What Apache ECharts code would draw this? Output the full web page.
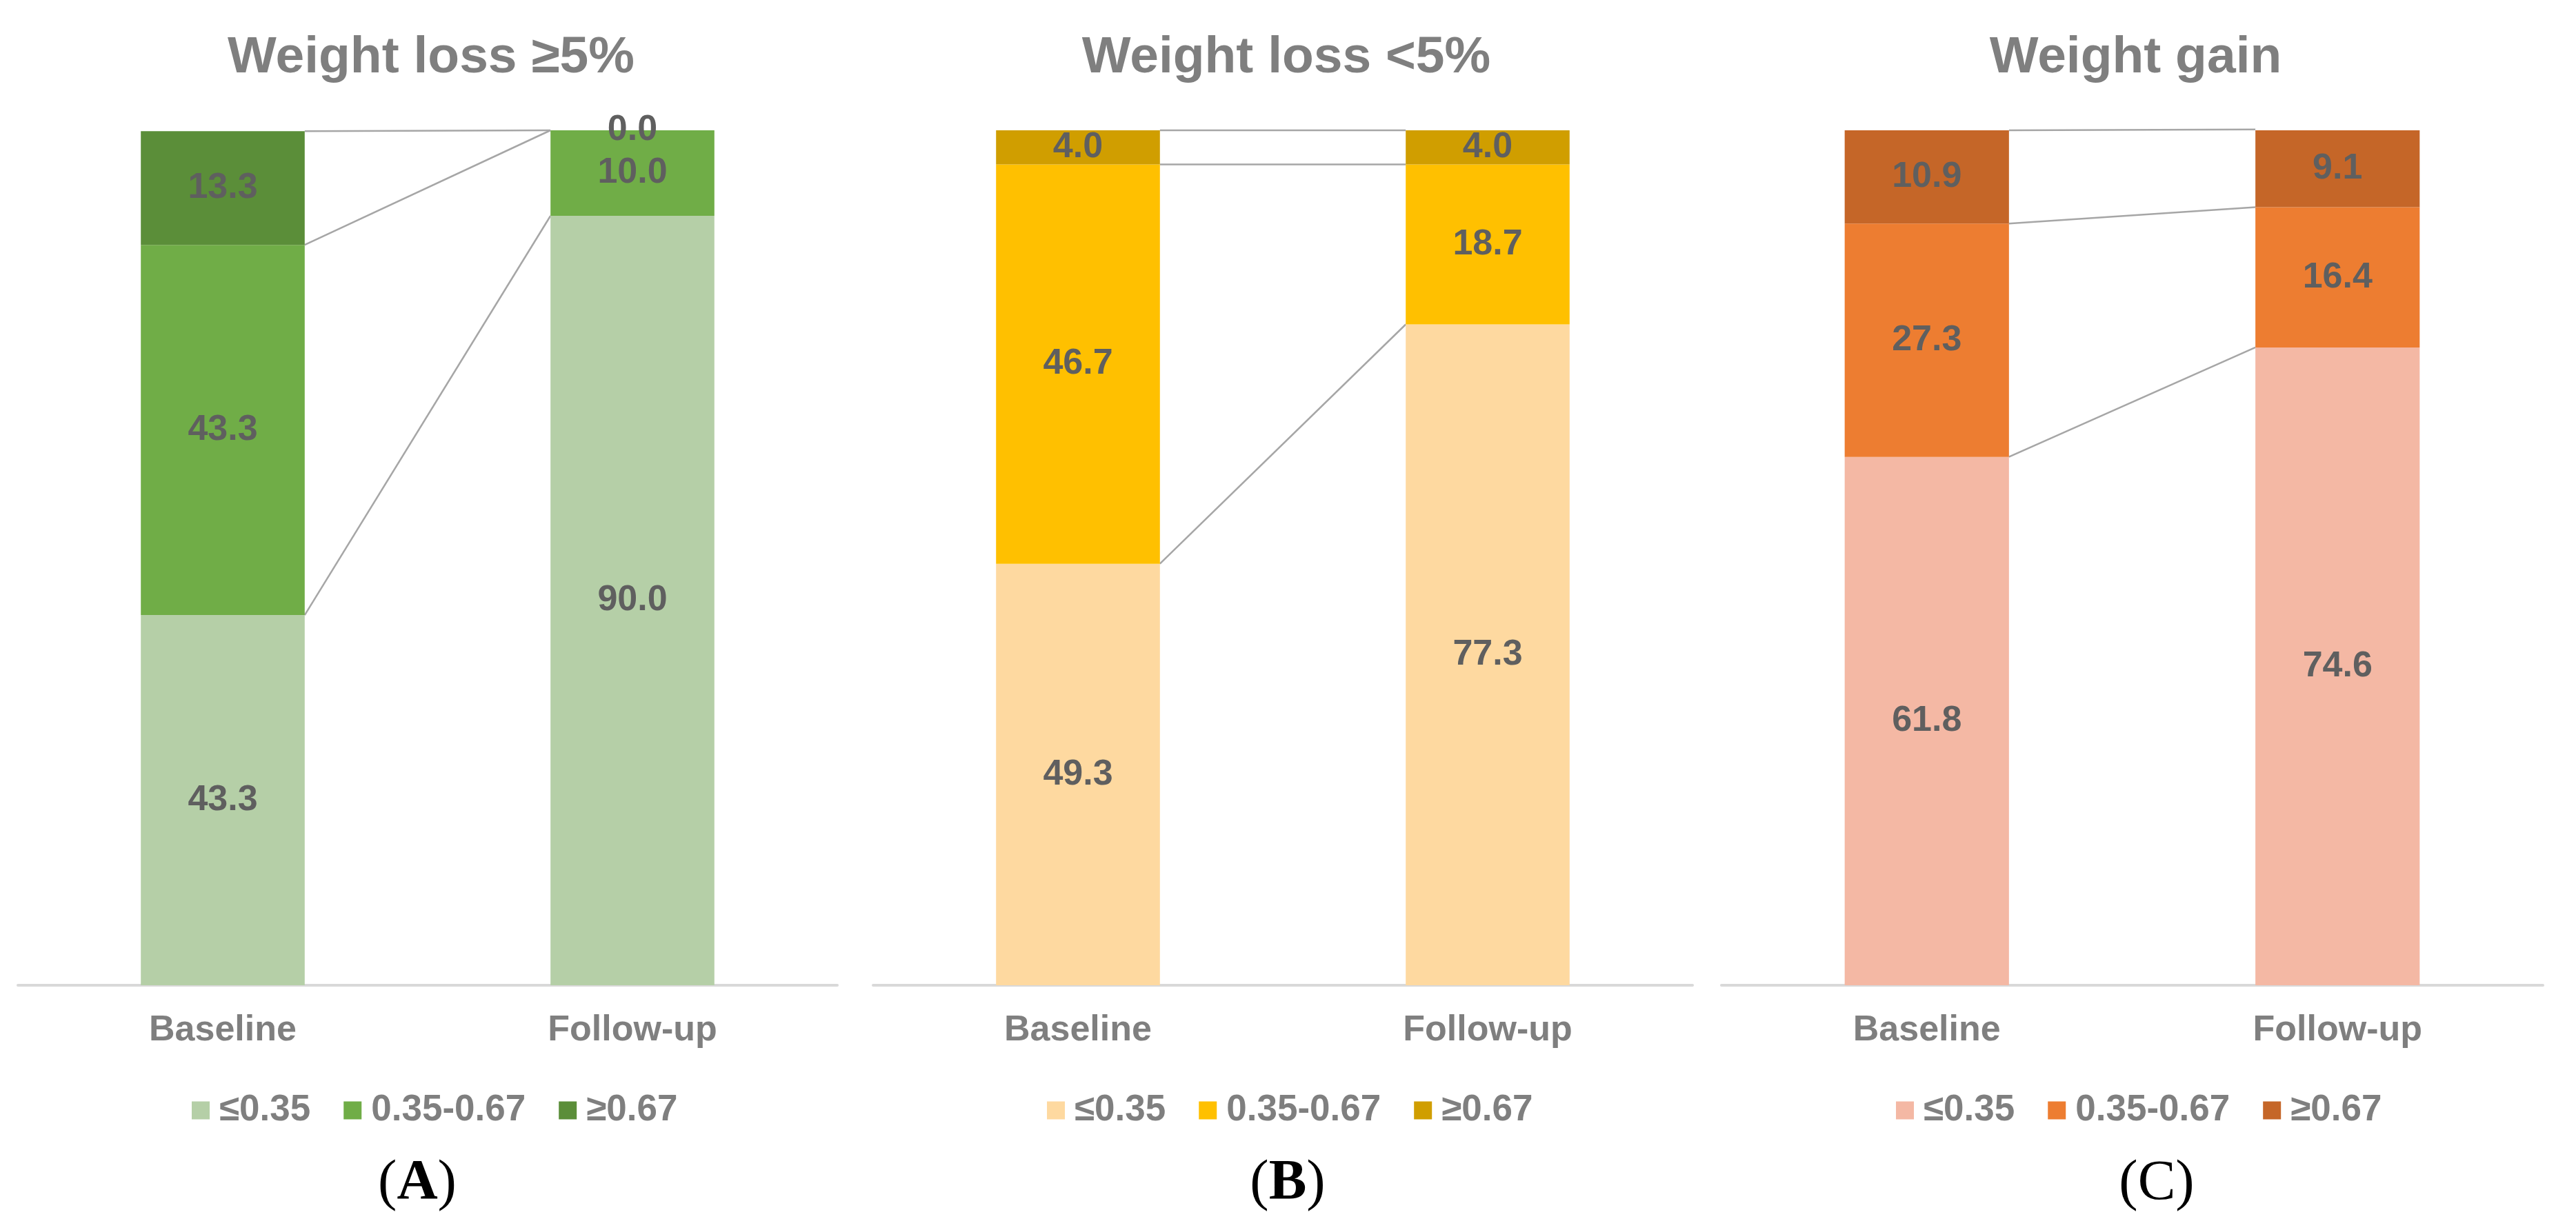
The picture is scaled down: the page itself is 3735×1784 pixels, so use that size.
<!DOCTYPE html>
<html>
<head>
<meta charset="utf-8">
<title>Weight change groups</title>
<script src="https://cdn.jsdelivr.net/npm/echarts@6/dist/echarts.min.js"></script>
<style>
  html, body { margin: 0; padding: 0; background: #fff; }
  #chart { width: 3735px; height: 1784px; }
</style>
</head>
<body>
<div id="chart"></div>
<script>
// categories and groups
const categories = ['Baseline', 'Follow-up'];
const groups = ['≤0.35', '0.35-0.67', '≥0.67'];
const panelTitles = ['Weight loss ≥5%', 'Weight loss <5%', 'Weight gain'];
const panelLetters = ['A', 'B', 'C'];

// panel A: weight loss >=5%
const lossGe5Low = [43.3, 90.0];
const lossGe5Mid = [43.3, 10.0];
const lossGe5High = [13.3, 0.0];

// panel B: weight loss <5%
const lossLt5Low = [49.3, 77.3];
const lossLt5Mid = [46.7, 18.7];
const lossLt5High = [4.0, 4.0];

// panel C: weight gain
const gainLow = [61.8, 74.6];
const gainMid = [27.3, 16.4];
const gainHigh = [10.9, 9.1];

const panelData = [
  [lossGe5Low, lossGe5Mid, lossGe5High],
  [lossLt5Low, lossLt5Mid, lossLt5High],
  [gainLow, gainMid, gainHigh]
];

const panelColors = [
  ['#b5cfa7', '#70ad47', '#5b8e39'],
  ['#fed9a0', '#ffc000', '#d09e00'],
  ['#f4b8a4', '#ed7d31', '#c56628']
];

// layout (px)
const gridLeft = [26, 1266, 2496];
const gridWidth = [1188, 1188, 1191];
const legendLeft = [273, 1513, 2744];
const letterX = [600, 1862, 3122];
const letterBold = [true, true, false];
const BAR_FRAC = 0.4;

const SANS = "'Liberation Sans', Arial, sans-serif";
const SERIF = "'Liberation Serif', 'Times New Roman', serif";
const GRAY = '#7f7f7f';

const chart = echarts.init(document.getElementById('chart'), null, { renderer: 'canvas' });

const grid = [], xAxis = [], yAxis = [], series = [], legend = [], title = [];

panelData.forEach(function (sets, p) {
  grid.push({ left: gridLeft[p], width: gridWidth[p], top: 189, height: 1240, containLabel: false });
  xAxis.push({
    type: 'category', gridIndex: p, data: categories,
    axisLine: { lineStyle: { color: '#d9d9d9', width: 4 } },
    axisTick: { show: false },
    axisLabel: { margin: 40, fontSize: 52, fontWeight: 'bold', color: GRAY, fontFamily: SANS }
  });
  yAxis.push({ type: 'value', gridIndex: p, min: 0, max: 100, show: false, splitLine: { show: false } });

  const names = groups.map(function (g) { return panelLetters[p] + g; });

  // connector lines between stacked segment tops
  const links = [];
  let c0 = 0, c1 = 0;
  sets.forEach(function (vals, i) {
    c0 += vals[0]; c1 += vals[1];
    links.push([i, c0, c1]);
  });
  series.push({
    type: 'custom', xAxisIndex: p, yAxisIndex: p, silent: true, z: 1,
    encode: { x: 0, y: 1 },
    data: links,
    renderItem: function (params, api) {
      const a = api.coord([0, api.value(1)]);
      const b = api.coord([1, api.value(2)]);
      const half = api.size([1, 0])[0] * BAR_FRAC / 2;
      return {
        type: 'line',
        shape: { x1: a[0] + half, y1: a[1], x2: b[0] - half, y2: b[1] },
        style: { stroke: '#a6a6a6', lineWidth: 2.5 }
      };
    }
  });

  sets.forEach(function (vals, i) {
    series.push({
      name: names[i], type: 'bar', stack: 'p' + p, xAxisIndex: p, yAxisIndex: p,
      barWidth: (BAR_FRAC * 100) + '%', z: 2,
      itemStyle: { color: panelColors[p][i] },
      label: {
        show: true, position: 'inside', fontSize: 52, fontWeight: 'bold',
        color: '#5f5f5f', fontFamily: SANS,
        formatter: function (d) { return d.value.toFixed(1); }
      },
      data: vals
    });
  });

  legend.push({
    left: legendLeft[p], top: 1579, orient: 'horizontal',
    icon: 'rect', itemWidth: 26, itemHeight: 26, itemGap: 48,
    selectedMode: false,
    data: names,
    formatter: function (n) { return n.slice(1); },
    textStyle: { fontSize: 53, fontWeight: 'bold', color: GRAY, fontFamily: SANS, padding: [0, 0, 0, 9] }
  });

  title.push({
    text: panelTitles[p], left: gridLeft[p] + gridWidth[p] / 2, top: 42, textAlign: 'center',
    textStyle: { fontSize: 75, fontWeight: 'bold', color: GRAY, fontFamily: SANS }
  });
  title.push({
    text: '{p|(}{' + (letterBold[p] ? 'b' : 'r') + '|' + panelLetters[p] + '}{p|)}',
    left: letterX[p], top: 1671, textAlign: 'center',
    textStyle: {
      fontWeight: 'normal', fontFamily: SERIF, fontSize: 82, color: '#000',
      rich: {
        p: { fontSize: 82, fontFamily: SERIF, color: '#000', fontWeight: 'normal', lineHeight: 82 },
        b: { fontSize: 82, fontFamily: SERIF, color: '#000', fontWeight: 'bold', lineHeight: 82 },
        r: { fontSize: 82, fontFamily: SERIF, color: '#000', fontWeight: 'normal', lineHeight: 82 }
      }
    }
  });
});

chart.setOption({
  animation: false,
  backgroundColor: '#fff',
  title: title,
  legend: legend,
  grid: grid,
  xAxis: xAxis,
  yAxis: yAxis,
  series: series
});
</script>
</body>
</html>
